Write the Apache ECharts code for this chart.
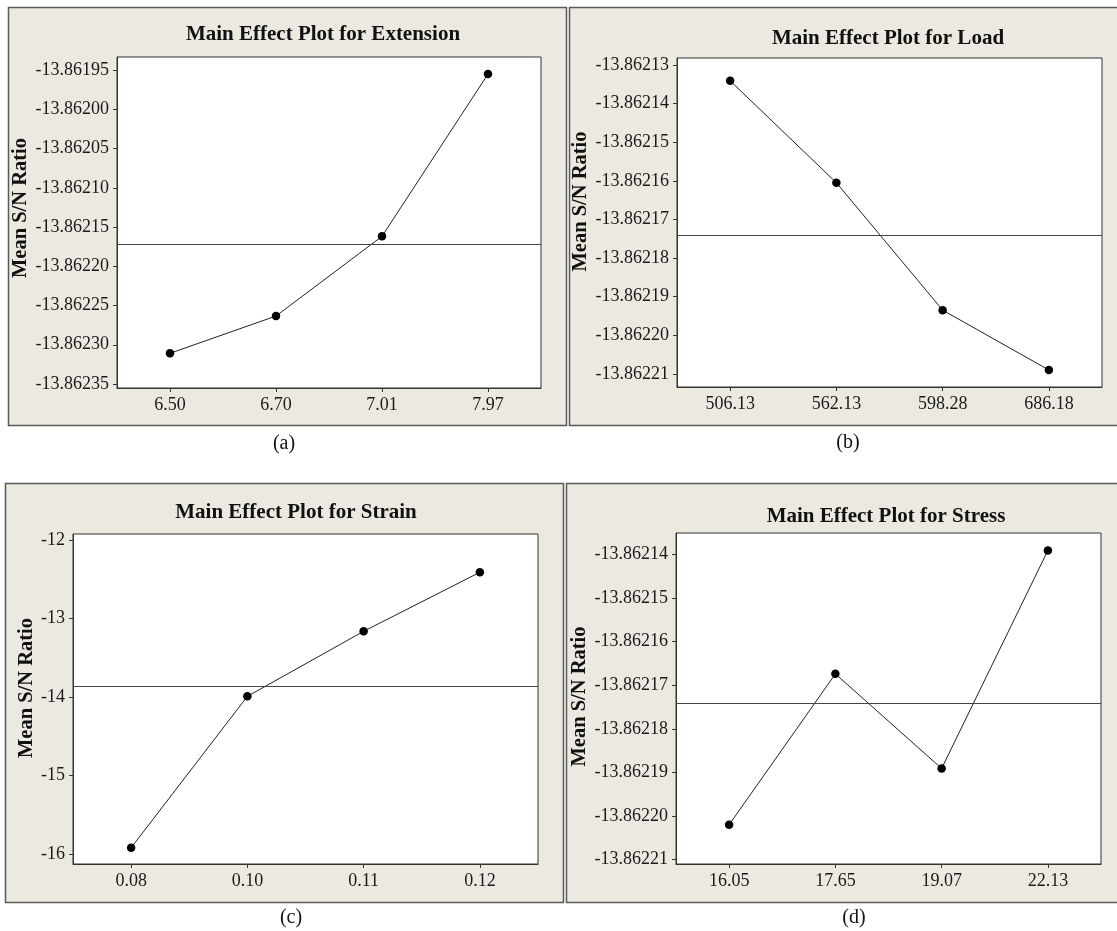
<!DOCTYPE html>
<html><head><meta charset="utf-8">
<script src="https://cdn.jsdelivr.net/npm/echarts@6/dist/echarts.min.js"></script>
<style>html,body{margin:0;padding:0;background:#fff}#c{width:1117px;height:931px}</style>
</head><body><div id="c"></div>
<script>
// ---------- data ----------
const titles = ['Main Effect Plot for Extension', 'Main Effect Plot for Load', 'Main Effect Plot for Strain', 'Main Effect Plot for Stress'];
const panelLabels = ['(a)', '(b)', '(c)', '(d)'];
const yAxisName = 'Mean S/N Ratio';

const extensionLevels = ['6.50', '6.70', '7.01', '7.97'];
const extensionSN = [-13.8623109, -13.8622634, -13.8621619, -13.8619551];
const extensionMean = -13.8621720;
const extensionTicks = [-13.86195, -13.86200, -13.86205, -13.86210, -13.86215, -13.86220, -13.86225, -13.86230, -13.86235];

const loadLevels = ['506.13', '562.13', '598.28', '686.18'];
const loadSN = [-13.8621341, -13.8621605, -13.8621935, -13.8622090];
const loadMean = -13.8621740;
const loadTicks = [-13.86213, -13.86214, -13.86215, -13.86216, -13.86217, -13.86218, -13.86219, -13.86220, -13.86221];

const strainLevels = ['0.08', '0.10', '0.11', '0.12'];
const strainSN = [-15.921, -13.990, -13.161, -12.408];
const strainMean = -13.867;
const strainTicks = [-12, -13, -14, -15, -16];

const stressLevels = ['16.05', '17.65', '19.07', '22.13'];
const stressSN = [-13.8622020, -13.8621674, -13.8621891, -13.8621391];
const stressMean = -13.8621741;
const stressTicks = [-13.86214, -13.86215, -13.86216, -13.86217, -13.86218, -13.86219, -13.86220, -13.86221];

// ---------- layout / style ----------
const FONT = '"Liberation Serif", "Times New Roman", serif';
const panels = [
  {levels: extensionLevels, sn: extensionSN, mean: extensionMean, ticks: extensionTicks, dec: 5,
   min: -13.8623551, max: -13.8619334,
   box: [8, 7, 558, 418], grid: [117, 57, 424, 331], title: [323, 35], lab: [284, 444], nameGap: 71, namePad: 29},
  {levels: loadLevels, sn: loadSN, mean: loadMean, ticks: loadTicks, dec: 5,
   min: -13.8622134, max: -13.8621282,
   box: [569, 7, 560, 418], grid: [677, 58, 425, 329], title: [888, 39], lab: [848, 443], nameGap: 72, namePad: 42},
  {levels: strainLevels, sn: strainSN, mean: strainMean, ticks: strainTicks, dec: 0,
   min: -16.128, max: -11.92,
   box: [5, 483, 558, 419], grid: [73, 534, 465, 330], title: [296, 513], lab: [291, 918], nameGap: 35, namePad: 22},
  {levels: stressLevels, sn: stressSN, mean: stressMean, ticks: stressTicks, dec: 5,
   min: -13.8622110, max: -13.8621351,
   box: [566, 483, 560, 419], grid: [676, 533, 425, 331], title: [886, 517], lab: [854, 918], nameGap: 82, namePad: 4}
];

const chart = echarts.init(document.getElementById('c'), null, {renderer: 'canvas'});
const grid = [], xAxis = [], yAxis = [], series = [], title = [], graphicEls = [];

panels.forEach((p, i) => {
  graphicEls.push({type: 'rect', z: -100, shape: {x: p.box[0] + 0.5, y: p.box[1] + 0.5, width: p.box[2], height: p.box[3]},
    style: {fill: '#ECE9E0', stroke: '#5a5a5a', lineWidth: 1.5}});
  graphicEls.push({type: 'text', x: p.lab[0], y: p.lab[1], style: {text: panelLabels[i], font: '20px ' + FONT, fill: '#111',
    textAlign: 'center', textVerticalAlign: 'middle'}});
  grid.push({left: p.grid[0], top: p.grid[1], width: p.grid[2], height: p.grid[3], show: true,
    backgroundColor: '#ffffff', borderColor: '#333', borderWidth: 1, containLabel: false});
  title.push({text: titles[i], left: p.title[0], top: p.title[1] - 11, textAlign: 'center', padding: 0,
    textStyle: {fontFamily: FONT, fontWeight: 'bold', fontSize: 21, color: '#111'}});
  xAxis.push({type: 'category', gridIndex: i, data: p.levels, boundaryGap: true,
    axisLine: {show: true, lineStyle: {color: '#333', width: 1}},
    axisTick: {show: true, alignWithLabel: true, length: 4, lineStyle: {color: '#333'}},
    axisLabel: {margin: 8, fontFamily: FONT, fontSize: 18, color: '#1a1a1a'},
    splitLine: {show: false}});
  yAxis.push({type: 'value', gridIndex: i, min: p.min, max: p.max,
    name: yAxisName, nameLocation: 'middle', nameRotate: 90, nameGap: p.nameGap,
    nameTextStyle: {fontFamily: FONT, fontWeight: 'bold', fontSize: 20.5, color: '#111', padding: [0, 0, 0, p.namePad]},
    axisLine: {show: true, lineStyle: {color: '#333', width: 1}},
    axisTick: {show: true, length: 4, customValues: p.ticks, lineStyle: {color: '#333'}},
    axisLabel: {margin: 8, customValues: p.ticks, fontFamily: FONT, fontSize: 18, color: '#1a1a1a',
      formatter: v => Number(v).toFixed(p.dec)},
    splitLine: {show: false}});
  series.push({type: 'line', xAxisIndex: i, yAxisIndex: i, data: p.sn, symbol: 'circle', symbolSize: 8.5,
    itemStyle: {color: '#000'}, lineStyle: {color: '#222', width: 1}, animation: false,
    markLine: {silent: true, symbol: 'none', precision: 10, label: {show: false}, animation: false,
      lineStyle: {color: '#444', width: 1.2, type: 'solid'}, data: [{yAxis: p.mean}]}});
});

chart.setOption({
  animation: false,
  backgroundColor: '#ffffff',
  title: title,
  grid: grid,
  xAxis: xAxis,
  yAxis: yAxis,
  series: series,
  graphic: {elements: graphicEls}
});
</script></body></html>
